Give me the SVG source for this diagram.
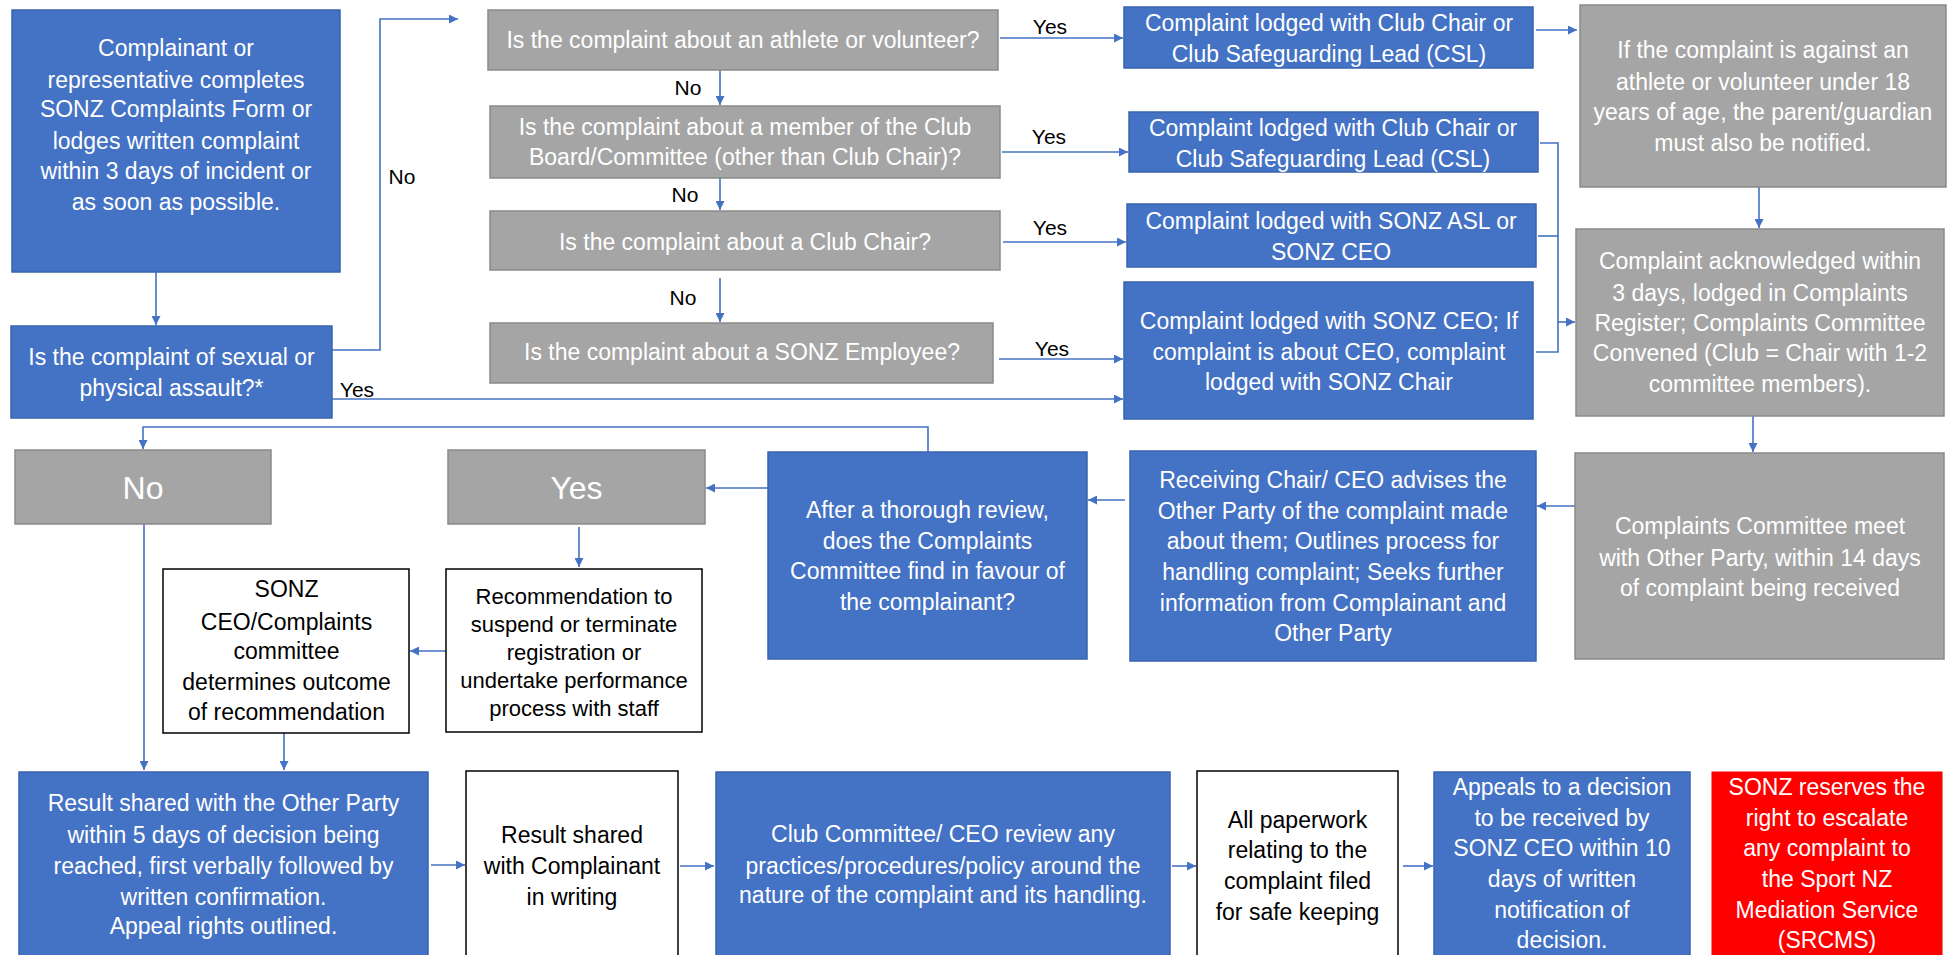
<svg xmlns="http://www.w3.org/2000/svg" width="1953" height="955" viewBox="0 0 1953 955">
<style>
.b{fill:#4472C4;stroke:#3A64B0;stroke-width:1.5}
.g{fill:#A5A5A5;stroke:#8A8A8A;stroke-width:1.5}
.w{fill:#FFFFFF;stroke:#000000;stroke-width:1.5}
.r{fill:#FF0000;stroke:#F00000;stroke-width:1}
text{font-family:"Liberation Sans",Arial,sans-serif;font-size:23px;text-anchor:middle;fill:#FFFFFF}
.k{fill:#000000}
.lb{fill:#000000;font-size:21px}
.big{font-size:32px}
.s22{font-size:22px}
.c path{fill:none;stroke:#4472C4;stroke-width:1.6}
</style>
<defs>
<marker id="a" viewBox="0 0 10 10" refX="10" refY="5" markerWidth="10" markerHeight="9" markerUnits="userSpaceOnUse" orient="auto">
<path d="M0,0 L10,5 L0,10 z" fill="#4472C4"/>
</marker>
</defs>

<g class="c">
<path d="M156,272 V325" marker-end="url(#a)"/>
<path d="M332,350 H380 V19 H458" marker-end="url(#a)"/>
<path d="M332,399 H1123" marker-end="url(#a)"/>
<path d="M720,70 V105" marker-end="url(#a)"/>
<path d="M720,178 V210" marker-end="url(#a)"/>
<path d="M720,278 V322" marker-end="url(#a)"/>
<path d="M1000,38 H1123" marker-end="url(#a)"/>
<path d="M1002,152 H1128" marker-end="url(#a)"/>
<path d="M1003,242 H1126" marker-end="url(#a)"/>
<path d="M999,359 H1123" marker-end="url(#a)"/>
<path d="M1536,30 H1577" marker-end="url(#a)"/>
<path d="M1540,143 H1558 V352 H1536"/>
<path d="M1538,236 H1558"/>
<path d="M1558,322 H1575" marker-end="url(#a)"/>
<path d="M1759,187 V228" marker-end="url(#a)"/>
<path d="M1753,416 V452" marker-end="url(#a)"/>
<path d="M1575,506 H1537" marker-end="url(#a)"/>
<path d="M1125,500 H1088" marker-end="url(#a)"/>
<path d="M928,452 V427 H143 V449" marker-end="url(#a)"/>
<path d="M768,488 H706" marker-end="url(#a)"/>
<path d="M579,527 V567" marker-end="url(#a)"/>
<path d="M446,651 H410" marker-end="url(#a)"/>
<path d="M144,524 V770" marker-end="url(#a)"/>
<path d="M284,733 V770" marker-end="url(#a)"/>
<path d="M431,865 H465" marker-end="url(#a)"/>
<path d="M680,866 H714" marker-end="url(#a)"/>
<path d="M1172,866 H1196" marker-end="url(#a)"/>
<path d="M1403,866 H1433" marker-end="url(#a)"/>
</g>

<g id="labels">
<text class="lb" x="402" y="184">No</text>
<text class="lb" x="357" y="397">Yes</text>
<text class="lb" x="688" y="95">No</text>
<text class="lb" x="685" y="202">No</text>
<text class="lb" x="683" y="305">No</text>
<text class="lb" x="1050" y="34">Yes</text>
<text class="lb" x="1049" y="144">Yes</text>
<text class="lb" x="1050" y="235">Yes</text>
<text class="lb" x="1052" y="356">Yes</text>
</g>

<g id="start">
<rect class="b" x="12" y="10" width="328" height="262"/>
<text x="176" y="56">Complainant or</text>
<text x="176" y="88">representative completes</text>
<text x="176" y="117">SONZ Complaints Form or</text>
<text x="176" y="149">lodges written complaint</text>
<text x="176" y="179">within 3 days of incident or</text>
<text x="176" y="210">as soon as possible.</text>
</g>

<g id="assault">
<rect class="b" x="11" y="326" width="321" height="92"/>
<text x="171.5" y="365">Is the complaint of sexual or</text>
<text x="171.5" y="396">physical assault?*</text>
</g>

<g id="q1">
<rect class="g" x="488" y="10" width="510" height="60"/>
<text x="743" y="48">Is the complaint about an athlete or volunteer?</text>
</g>
<g id="q2">
<rect class="g" x="490" y="106" width="510" height="72"/>
<text x="745" y="135">Is the complaint about a member of the Club</text>
<text x="745" y="165">Board/Committee (other than Club Chair)?</text>
</g>
<g id="q3">
<rect class="g" x="490" y="211" width="510" height="59"/>
<text x="745" y="250">Is the complaint about a Club Chair?</text>
</g>
<g id="q4">
<rect class="g" x="490" y="323" width="503" height="60"/>
<text x="742" y="360">Is the complaint about a SONZ Employee?</text>
</g>

<g id="b1">
<rect class="b" x="1124" y="7" width="409" height="61"/>
<text x="1329" y="31">Complaint lodged with Club Chair or</text>
<text x="1329" y="62">Club Safeguarding Lead (CSL)</text>
</g>
<g id="b2">
<rect class="b" x="1129" y="112" width="409" height="60"/>
<text x="1333" y="136">Complaint lodged with Club Chair or</text>
<text x="1333" y="167">Club Safeguarding Lead (CSL)</text>
</g>
<g id="b3">
<rect class="b" x="1127" y="204" width="409" height="63"/>
<text x="1331" y="229">Complaint lodged with SONZ ASL or</text>
<text x="1331" y="260">SONZ CEO</text>
</g>
<g id="b4">
<rect class="b" x="1124" y="282" width="409" height="137"/>
<text x="1329" y="329">Complaint lodged with SONZ CEO; If</text>
<text x="1329" y="360">complaint is about CEO, complaint</text>
<text x="1329" y="390">lodged with SONZ Chair</text>
</g>

<g id="r1">
<rect class="g" x="1580" y="5" width="366" height="182"/>
<text x="1763" y="58">If the complaint is against an</text>
<text x="1763" y="90">athlete or volunteer under 18</text>
<text x="1763" y="120">years of age, the parent/guardian</text>
<text x="1763" y="151">must also be notified.</text>
</g>
<g id="r2">
<rect class="g" x="1576" y="229" width="368" height="187"/>
<text x="1760" y="269">Complaint acknowledged within</text>
<text x="1760" y="301">3 days, lodged in Complaints</text>
<text x="1760" y="331">Register; Complaints Committee</text>
<text x="1760" y="361">Convened (Club = Chair with 1-2</text>
<text x="1760" y="392">committee members).</text>
</g>

<g id="p3">
<rect class="g" x="1575" y="453" width="369" height="206"/>
<text x="1760" y="534">Complaints Committee meet</text>
<text x="1760" y="566">with Other Party, within 14 days</text>
<text x="1760" y="596">of complaint being received</text>
</g>
<g id="p2">
<rect class="b" x="1130" y="451" width="406" height="210"/>
<text x="1333" y="488">Receiving Chair/ CEO advises the</text>
<text x="1333" y="519">Other Party of the complaint made</text>
<text x="1333" y="549">about them; Outlines process for</text>
<text x="1333" y="580">handling complaint; Seeks further</text>
<text x="1333" y="611">information from Complainant and</text>
<text x="1333" y="641">Other Party</text>
</g>
<g id="p1">
<rect class="b" x="768" y="452" width="319" height="207"/>
<text x="927.5" y="518">After a thorough review,</text>
<text x="927.5" y="549">does the Complaints</text>
<text x="927.5" y="579">Committee find in favour of</text>
<text x="927.5" y="610">the complainant?</text>
</g>

<g id="no">
<rect class="g" x="15" y="450" width="256" height="74"/>
<text class="big" x="143" y="499">No</text>
</g>
<g id="yes">
<rect class="g" x="448" y="450" width="257" height="74"/>
<text class="big" x="576.5" y="499">Yes</text>
</g>

<g id="sonz">
<rect class="w" x="163" y="569" width="246" height="164"/>
<text class="k" x="286.5" y="597">SONZ</text>
<text class="k" x="286.5" y="630">CEO/Complaints</text>
<text class="k" x="286.5" y="659">committee</text>
<text class="k" x="286.5" y="690">determines outcome</text>
<text class="k" x="286.5" y="720">of recommendation</text>
</g>
<g id="rec">
<rect class="w" x="446" y="569" width="256" height="163"/>
<text class="k s22" x="574" y="604">Recommendation to</text>
<text class="k s22" x="574" y="632">suspend or terminate</text>
<text class="k s22" x="574" y="660">registration or</text>
<text class="k s22" x="574" y="688">undertake performance</text>
<text class="k s22" x="574" y="716">process with staff</text>
</g>

<g id="result">
<rect class="b" x="19" y="772" width="409" height="190"/>
<text x="223.5" y="811">Result shared with the Other Party</text>
<text x="223.5" y="843">within 5 days of decision being</text>
<text x="223.5" y="874">reached, first verbally followed by</text>
<text x="223.5" y="905">written confirmation.</text>
<text x="223.5" y="934">Appeal rights outlined.</text>
</g>
<g id="complainant">
<rect class="w" x="466" y="771" width="212" height="191"/>
<text class="k" x="572" y="843">Result shared</text>
<text class="k" x="572" y="874">with Complainant</text>
<text class="k" x="572" y="905">in writing</text>
</g>
<g id="club">
<rect class="b" x="716" y="772" width="454" height="190"/>
<text x="943" y="842">Club Committee/ CEO review any</text>
<text x="943" y="874">practices/procedures/policy around the</text>
<text x="943" y="903">nature of the complaint and its handling.</text>
</g>
<g id="paperwork">
<rect class="w" x="1197" y="771" width="201" height="191"/>
<text class="k" x="1297.5" y="828">All paperwork</text>
<text class="k" x="1297.5" y="858">relating to the</text>
<text class="k" x="1297.5" y="889">complaint filed</text>
<text class="k" x="1297.5" y="920">for safe keeping</text>
</g>
<g id="appeals">
<rect class="b" x="1434" y="772" width="256" height="190"/>
<text x="1562" y="795">Appeals to a decision</text>
<text x="1562" y="826">to be received by</text>
<text x="1562" y="856">SONZ CEO within 10</text>
<text x="1562" y="887">days of written</text>
<text x="1562" y="918">notification of</text>
<text x="1562" y="948">decision.</text>
</g>
<g id="escalate">
<rect class="r" x="1712" y="772" width="230" height="190"/>
<text x="1827" y="795">SONZ reserves the</text>
<text x="1827" y="826">right to escalate</text>
<text x="1827" y="856">any complaint to</text>
<text x="1827" y="887">the Sport NZ</text>
<text x="1827" y="918">Mediation Service</text>
<text x="1827" y="948">(SRCMS)</text>
</g>
</svg>
